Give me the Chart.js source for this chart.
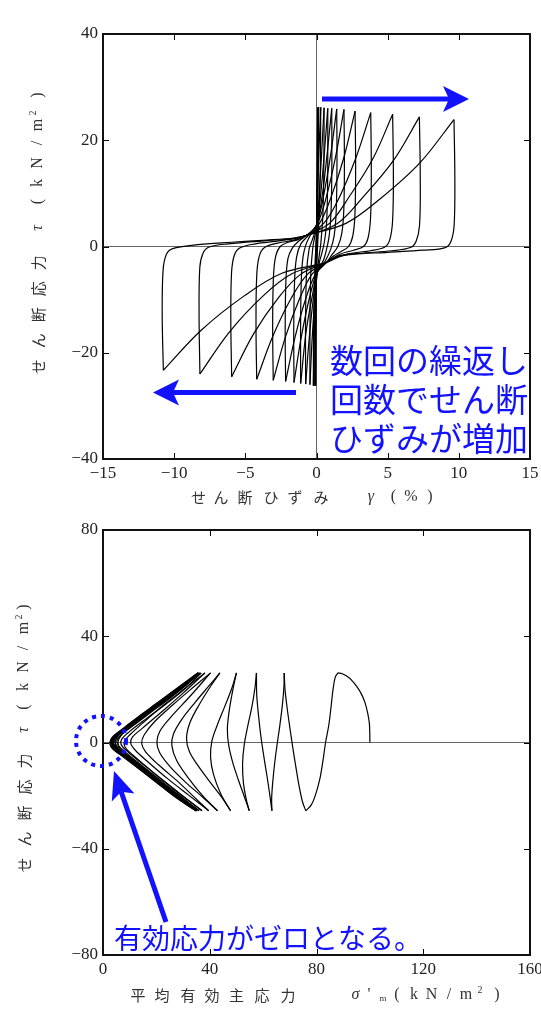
<!DOCTYPE html>
<html><head><meta charset="utf-8">
<script src="https://cdn.jsdelivr.net/npm/chart.js@4.4.1/dist/chart.umd.min.js"></script>
<style>
html,body{margin:0;padding:0;background:#fff;overflow:hidden;width:541px;height:1010px;}
canvas{position:absolute;left:0;}
#c1{top:0}#c2{top:505px}
</style></head><body>
<canvas id="c1" width="541" height="505"></canvas>
<canvas id="c2" width="541" height="505"></canvas>
<script>
// ---------- tick values ----------
const strainTicks = [-15, -10, -5, 0, 5, 10, 15];
const stressTicksTop = [-40, -20, 0, 20, 40];
const meanStressTicks = [0, 40, 80, 120, 160];
const stressTicksBottom = [-80, -40, 0, 40, 80];

// ---------- top: shear strain γ (%) per half-cycle ----------
const hysteresisStrain = [
  [0, 0.03, 0.06, 0.08],
  [0.08, 0.06, 0.02, -0.03, -0.06],
  [-0.06, -0.05, -0.01, 0.07, 0.15],
  [0.15, 0.12, 0.04, -0.06, -0.12],
  [-0.12, -0.1, -0.03, 0.1, 0.3],
  [0.30, 0.26, 0.15, 0.05, -0.05, -0.14, -0.22],
  [-0.22, -0.2, -0.1, 0, 0.15, 0.35, 0.53],
  [0.53, 0.52, 0.45, 0.3, 0.2, 0.05, -0.15, -0.32, -0.46],
  [-0.46, -0.46, -0.4, -0.25, -0.15, 0.05, 0.3, 0.55, 0.79],
  [0.79, 0.79, 0.72, 0.55, 0.35, 0.2, -0.05, -0.3, -0.55, -0.76],
  [-0.76, -0.77, -0.7, -0.52, -0.3, -0.1, 0.15, 0.45, 0.75, 1.07],
  [1.07, 1.08, 1.03, 0.9, 0.7, 0.5, 0.07, -0.31, -0.74, -1.11],
  [-1.11, -1.12, -1.07, -0.95, -0.75, -0.5, 0.02, 0.46, 0.98, 1.42],
  [1.42, 1.44, 1.39, 1.25, 1.0, 0.6, 0.01, -0.49, -1.08, -1.58],
  [-1.58, -1.6, -1.54, -1.4, -1.1, -0.6, 0.08, 0.67, 1.35, 1.93],
  [1.93, 1.96, 1.92, 1.78, 1.5, 1.1, 0.7, -0.07, -0.74, -1.51, -2.17],
  [-2.17, -2.2, -2.15, -2.0, -1.7, -1.3, -0.7, 0.22, 1.0, 1.93, 2.71],
  [2.71, 2.75, 2.7, 2.55, 2.25, 1.7, 1.2, 0.7, -0.31, -1.17, -2.18, -3.04],
  [-3.04, -3.08, -3.03, -2.88, -2.55, -2.0, -1.3, -0.7, 0.52, 1.56, 2.77, 3.81],
  [3.81, 3.85, 3.8, 3.62, 3.3, 2.6, 1.6, 0.7, -0.62, -1.75, -3.07, -4.2],
  [-4.2, -4.25, -4.2, -4.02, -3.65, -2.8, -1.6, -0.7, 0.93, 2.33, 3.96, 5.35],
  [5.35, 5.4, 5.35, 5.15, 4.8, 3.8, 2.2, 0.7, -1.1, -2.63, -4.43, -5.96],
  [-5.96, -6.02, -5.97, -5.78, -5.4, -4.3, -2.5, -0.7, 1.44, 3.27, 5.41, 7.23],
  [7.23, 7.29, 7.24, 7.0, 6.6, 5.3, 3.0, 1.5, 0.7, -1.7, -3.75, -6.15, -8.19],
  [-8.19, -8.25, -8.2, -7.98, -7.55, -6.2, -3.5, -1.6, -0.7, 2.1, 4.48, 7.28, 9.66],
  [9.66, 9.72, 9.67, 9.45, 9.05, 7.5, 5, 2.5, 1.4, 0.7, -2.39, -5.03, -8.12, -10.76],
  [-10.76, -10.84, -10.78, -10.55, -10.1, -8.5, -6, -3.5, -1.6, -0.7, 0.3]
];
// ---------- top: shear stress τ (kN/m²) per half-cycle ----------
const hysteresisStress = [
  [0, 10, 20, 26.2],
  [26.2, 13, 0, -13, -26.2],
  [-26.2, -13, 0, 13, 26.2],
  [26.2, 13, 0, -13, -26.2],
  [-26.2, -13, 0, 13, 26.2],
  [26.2, 14, 4, -1, -6, -15, -26.2],
  [-26.2, -14, -3, 1.5, 8, 17, 26.1],
  [26.1, 16, 6, 0.5, -1.5, -5, -11, -18, -26],
  [-26, -16, -5, 0, 1.5, 4.5, 10, 17.5, 26],
  [26, 15, 5, 0.8, -1.5, -3, -6.5, -11.5, -18.5, -25.9],
  [-25.9, -15, -5, -0.5, 1.2, 2.8, 5.5, 10.5, 17.5, 26],
  [26, 16, 7, 2.2, -0.6, -2.5, -4.8, -9.5, -16.2, -25.8],
  [-25.8, -16, -6.5, -2, 0.3, 1.8, 4.2, 9.0, 17.0, 25.9],
  [25.9, 16, 7, 2.2, -0.5, -2.8, -5.1, -9.6, -17.2, -25.6],
  [-25.6, -16, -6.5, -2, 0.5, 2.0, 4.4, 9.1, 17.0, 25.8],
  [25.8, 16, 7, 2.5, 0, -1.5, -3, -5.2, -9.7, -17.1, -25.4],
  [-25.4, -16, -6.5, -2.2, -0.3, 0.9, 2.1, 4.4, 9.1, 16.8, 25.5],
  [25.5, 15, 6, 2, 0, -1.0, -1.8, -3, -5.2, -9.7, -17.0, -25.2],
  [-25.2, -15, -6, -2, 0, 0.8, 1.3, 2.1, 4.4, 9.0, 16.7, 25.2],
  [25.2, 15, 5.5, 1.6, 0, -0.7, -1.5, -3, -5.2, -9.6, -16.9, -25.0],
  [-25, -15, -5.5, -1.8, -0.2, 0.6, 1.2, 2.1, 4.4, 9.5, 16.5, 24.9],
  [24.9, 14, 5, 1.3, -0.1, -0.8, -1.4, -3, -5.2, -9.5, -16.5, -24.5],
  [-24.5, -14, -5, -1.7, -0.3, 0.5, 1.1, 2.1, 4.3, 9.3, 16.2, 24.4],
  [24.4, 13, 4, 1, -0.2, -0.8, -1.3, -1.8, -3, -5.1, -9.3, -16.2, -24.0],
  [-24, -13, -4, -1.3, -0.1, 0.5, 1.1, 1.5, 2.1, 4.4, 9.0, 15.8, 23.9],
  [23.9, 13, 4, 1.0, -0.2, -0.7, -1.1, -1.5, -2.0, -3, -5.0, -9.2, -15.8, -23.3],
  [-23.3, -13, -4.5, -1.5, -0.4, 0.3, 0.8, 1.2, 1.6, 2.1, 3.5]
];

// ---------- bottom: mean effective stress σ'm (kN/m²) per half-cycle ----------
const pathMeanStress = [
  [100, 99.95, 99.8, 99.2, 98.2, 96.8, 95.0, 93.2, 91.3, 89.6, 88.0],
  [88.0, 87.0, 86.2, 85.4, 84.6, 83.4, 82.4, 81.3, 79.6, 78, 76.0],
  [76.0, 74.8, 73.6, 72.4, 71.2, 70.1, 69, 68.2, 67.9],
  [67.9, 67.8, 67.2, 66.2, 65.2, 64.3, 63.6, 63.2, 63.3],
  [63.3, 62.6, 61.5, 60.3, 59.2, 58.3, 57.6, 57.5],
  [57.5, 57.0, 55.8, 54.2, 52.9, 52.3, 52.6, 53.6, 54.8],
  [54.8, 53.0, 50.7, 48.6, 47.1, 46.6, 47.3, 48.6, 50.0],
  [50.0, 48.3, 45.6, 42.8, 40.8, 40.3, 41.4, 44.2, 47.8],
  [47.8, 44.4, 40.2, 35.8, 32.4, 31.3, 32.6, 36.2, 40.2, 43.8],
  [43.8, 39.6, 34.6, 29.6, 26.4, 25.8, 27.6, 32, 37.3, 42.9],
  [42.9, 37.6, 31.2, 25.2, 21.2, 20.2, 21.4, 25.8, 32.8, 40.3],
  [40.3, 33.6, 26.2, 19.3, 15.4, 14.5, 15.9, 20.8, 28.4, 34, 39.6],
  [39.6, 32.2, 24.2, 17.2, 12.2, 10.4, 11, 14.8, 21.8, 29.8, 38.2],
  [38.2, 30.6, 22.6, 15.2, 10.2, 8, 8.3, 11.5, 18, 26, 37.1],
  [37.1, 29, 21, 14, 9.2, 6.8, 7, 9.8, 16, 23.5, 30.5, 36.8],
  [36.8, 30, 22.5, 15, 9.5, 6.6, 5.6, 6.4, 9.5, 16, 24, 30.5, 36.0],
  [36.0, 28.5, 20.5, 13.5, 8.6, 5.8, 5.2, 6.6, 10.6, 17.5, 25, 31, 36.3],
  [36.3, 29.5, 22, 14.5, 9, 5.8, 4.6, 5.4, 8.6, 15.5, 23.5, 29.5, 35.3],
  [35.3, 28, 20, 13, 8, 5.2, 4.4, 5.6, 9.6, 16.5, 24.5, 30.5, 36.0],
  [36.0, 29.2, 21.6, 14, 8.4, 5.2, 3.9, 4.6, 7.8, 15, 23, 29, 35.1],
  [35.1, 27.8, 19.8, 12.6, 7.4, 4.6, 3.7, 4.8, 8.8, 16, 24, 30, 35.8],
  [35.8, 29, 21.4, 13.8, 8.2, 5, 3.4, 4.2, 7.4, 14.6, 22.6, 28.8, 35.0],
  [35.0, 27.6, 19.6, 12.4, 7.2, 4.2, 3.1, 4.3, 8.4, 15.7, 23.8, 29.8, 35.6],
  [35.6, 28.8, 21.2, 13.6, 8, 4.7, 2.9, 3.8, 7.1, 14.3, 22.4, 28.6, 34.8],
  [34.8, 27.4, 19.4, 12.2, 7, 3.9, 2.7, 3.9, 8, 15.4, 23.6, 29.6, 35.5],
  [35.5, 28.6, 21, 13.4, 7.8, 4.4, 2.6, 3.5, 6.9, 14, 22.2, 28.4, 34.8],
  [34.8, 27.4, 19.4, 12.2, 7, 4, 3, 4.2, 6.5]
];
// ---------- bottom: shear stress τ (kN/m²) per half-cycle ----------
const pathShearStress = [
  [0, 4, 7.3, 11, 14.9, 18.3, 21.2, 23.4, 25.0, 25.9, 26.2],
  [26.2, 24.5, 20, 13, 6.5, 0, -7, -13.5, -19.8, -23.6, -25.7],
  [-25.7, -22.5, -17, -10, -2.5, 5, 13, 20, 26.2],
  [26.2, 21, 14, 6, -1, -8, -15, -21, -25.7],
  [-25.7, -20.5, -13, -5.5, 2, 10, 18, 26.2],
  [26.2, 21, 13.5, 6, -1, -8, -15, -21, -25.7],
  [-25.7, -20.5, -14, -7.5, -1, 5, 12, 19.5, 26.2],
  [26.2, 20.5, 13.5, 6.5, 0.5, -5.5, -12, -19.5, -25.7],
  [-25.7, -20.5, -15, -9, -3.5, 1.5, 7.5, 14.5, 21, 26.2],
  [26.2, 21.2, 15.2, 8.8, 3.2, -1.2, -6.8, -13.4, -20, -25.7],
  [-25.7, -20.8, -15.2, -9.2, -3.8, 0.3, 4.4, 10, 17.6, 26.2],
  [26.2, 20.6, 14.2, 7.8, 2.8, -0.4, -3.4, -8.4, -15, -20.4, -25.7],
  [-25.7, -19.9, -13.6, -7.6, -3, -0.3, 2, 5.4, 11.4, 18.4, 26.2],
  [26.2, 20.3, 14, 7.6, 3, 0.4, -1.8, -5, -10.6, -17.2, -25.7],
  [-25.7, -19.4, -13, -7.4, -3.4, -0.8, 1.2, 4, 8.8, 14.4, 20, 26.2],
  [26.2, 21, 15.3, 9.6, 5.2, 2.4, 0, -2.4, -5, -10.2, -16.6, -21.6, -25.7],
  [-25.7, -19.8, -13.4, -7.8, -3.8, -1.2, 0.6, 2.8, 5.8, 11, 16.6, 21.4, 26.2],
  [26.2, 21, 15.4, 9.8, 5.6, 2.6, 0.2, -2.4, -5, -10.4, -16.8, -21.4, -25.7],
  [-25.7, -20, -13.6, -8, -4, -1.4, 0.6, 2.6, 5.4, 10.6, 16.6, 21.2, 26.2],
  [26.2, 21.1, 15.4, 9.8, 5.5, 2.6, 0.2, -2.2, -4.8, -10.4, -16.8, -21.4, -25.7],
  [-25.7, -20, -13.6, -8, -4, -1.4, 0.5, 2.5, 5.3, 10.6, 16.6, 21.2, 26.2],
  [26.2, 21.1, 15.4, 9.8, 5.5, 2.6, 0.1, -2.3, -4.9, -10.4, -16.8, -21.5, -25.7],
  [-25.7, -20, -13.6, -8, -4, -1.3, 0.5, 2.5, 5.3, 10.6, 16.6, 21.2, 26.2],
  [26.2, 21.1, 15.4, 9.8, 5.5, 2.6, 0.1, -2.3, -4.9, -10.4, -16.8, -21.5, -25.7],
  [-25.7, -20, -13.6, -8, -4, -1.3, 0.5, 2.5, 5.3, 10.6, 16.6, 21.2, 26.2],
  [26.2, 21.1, 15.4, 9.8, 5.5, 2.6, 0.1, -2.3, -4.9, -10.4, -16.8, -21.5, -25.7],
  [-25.7, -20, -13.6, -8, -4, -1.3, 0.5, 2.4, 3.5]
];

// ---------- helpers ----------
const BLUE = '#1212ff';
const TXT = '#333';
const CJK = '"Noto Sans CJK JP", sans-serif';
const SERIF = '"Liberation Serif", "DejaVu Serif", serif';

function buildDatasets(xs, ys) {
  return xs.map((seg, i) => ({
    data: seg.map((x, j) => ({ x: x, y: ys[i][j] })),
    showLine: true, borderColor: '#000', borderWidth: 1.2,
    pointRadius: 0, pointHoverRadius: 0, tension: 0.35, fill: false
  }));
}
function fmt(v) { return v < 0 ? '\u2212' + Math.abs(v) : String(v); }

function arrow(ctx, x1, y1, x2, y2, w, hl, hw) {
  const a = Math.atan2(y2 - y1, x2 - x1);
  const L = Math.hypot(x2 - x1, y2 - y1);
  ctx.save();
  ctx.translate(x2, y2); ctx.rotate(a);
  ctx.fillStyle = BLUE;
  ctx.fillRect(-L, -w / 2, L - hl + 6, w);
  ctx.beginPath();
  ctx.moveTo(0, 0); ctx.lineTo(-hl, -hw / 2); ctx.lineTo(-hl + 6, 0); ctx.lineTo(-hl, hw / 2);
  ctx.closePath(); ctx.fill();
  ctx.restore();
}
function hChars(ctx, y, list) {
  ctx.save(); ctx.fillStyle = TXT; ctx.textAlign = 'center'; ctx.textBaseline = 'middle';
  list.forEach(([ch, x, f, dy]) => { ctx.font = f; ctx.fillText(ch, x, y + (dy || 0)); });
  ctx.restore();
}
function vChars(ctx, x, list) {
  ctx.save(); ctx.fillStyle = TXT; ctx.textAlign = 'center'; ctx.textBaseline = 'middle';
  list.forEach(([ch, y, f, dx]) => {
    ctx.save(); ctx.translate(x + (dx || 0), y); ctx.rotate(-Math.PI / 2);
    ctx.font = f; ctx.fillText(ch, 0, 0); ctx.restore();
  });
  ctx.restore();
}
function frameAndTicks(chart, xTicks, yTicks) {
  const ctx = chart.ctx, a = chart.chartArea, xs = chart.scales.x, ys = chart.scales.y;
  ctx.save();
  ctx.strokeStyle = '#000'; ctx.lineWidth = 1;
  ctx.beginPath();
  xTicks.slice(1, -1).forEach(v => {
    const px = Math.round(xs.getPixelForValue(v)) + 0.5;
    ctx.moveTo(px, a.bottom); ctx.lineTo(px, a.bottom - 6);
    ctx.moveTo(px, a.top); ctx.lineTo(px, a.top + 6);
  });
  yTicks.slice(1, -1).forEach(v => {
    const py = Math.round(ys.getPixelForValue(v)) + 0.5;
    ctx.moveTo(a.left, py); ctx.lineTo(a.left + 6, py);
    ctx.moveTo(a.right, py); ctx.lineTo(a.right - 6, py);
  });
  ctx.stroke();
  ctx.strokeStyle = '#111'; ctx.lineWidth = 2;
  ctx.strokeRect(a.left, a.top, a.right - a.left, a.bottom - a.top);
  ctx.restore();
}

function axisOpts(min, max, ticks, isX, size) {
  return {
    type: 'linear', min: min, max: max,
    afterBuildTicks: s => { s.ticks = ticks.map(v => ({ value: v })); },
    afterFit: s => {
      if (isX) { s.height = size; } else { s.width = size; }
      s.paddingLeft = 0; s.paddingRight = 0; s.paddingTop = 0; s.paddingBottom = 0;
    },
    grid: {
      drawTicks: false,
      color: c => (c.tick && c.tick.value === 0) ? '#666' : 'rgba(0,0,0,0)',
      lineWidth: 1
    },
    border: { display: false },
    ticks: {
      padding: isX ? 4 : 5, color: '#222', autoSkip: false, maxRotation: 0,
      font: { family: SERIF, size: 17 },
      callback: v => fmt(v)
    }
  };
}

const fCJK = '15px ' + CJK;
const fSer = '16px ' + SERIF;
const fSerI = 'italic 16px ' + SERIF;
const fSm = '10px ' + SERIF;

// ---------- top chart ----------
const topPlugin = {
  id: 'topDeco',
  afterDraw(chart) {
    const ctx = chart.ctx;
    frameAndTicks(chart, strainTicks, stressTicksTop);
    hChars(ctx, 497, [
      ['せ', 198.5, fCJK], ['ん', 221, fCJK], ['断', 245, fCJK], ['ひ', 271, fCJK],
      ['ず', 295, fCJK], ['み', 321, fCJK], ['γ', 371, fSerI], ['(', 393.5, fSer],
      ['%', 411, fSer], [')', 430, fSer]
    ]);
    vChars(ctx, 38, [
      ['せ', 366.7, fCJK], ['ん', 340.7, fCJK], ['断', 314.7, fCJK], ['応', 288.7, fCJK],
      ['力', 262.7, fCJK], ['τ', 228, fSerI], ['(', 201.7, fSer], ['k', 183, fSer],
      ['N', 163, fSer], ['/', 143, fSer], ['m', 125, fSer], ['2', 113, fSm, -5], [')', 95, fSer]
    ]);
    arrow(ctx, 322, 99, 469, 99, 5, 26, 26);
    arrow(ctx, 296, 392.5, 153, 392.5, 5, 26, 26);
    ctx.save();
    ctx.fillStyle = BLUE; ctx.font = '33px ' + CJK; ctx.textBaseline = 'middle'; ctx.textAlign = 'left';
    ctx.fillText('数回の繰返し', 330, 360);
    ctx.fillText('回数でせん断', 330, 399);
    ctx.fillText('ひずみが増加', 330, 438);
    ctx.restore();
  }
};

new Chart(document.getElementById('c1'), {
  type: 'scatter',
  data: { datasets: buildDatasets(hysteresisStrain, hysteresisStress) },
  options: {
    responsive: false, animation: false, devicePixelRatio: 1,
    layout: { padding: { top: 34, right: 11, left: 0, bottom: 0 } },
    plugins: { legend: { display: false }, tooltip: { enabled: false } },
    events: [],
    scales: {
      x: axisOpts(-15, 15, strainTicks, true, 505 - 459),
      y: axisOpts(-40, 40, stressTicksTop, false, 103)
    }
  },
  plugins: [topPlugin]
});

// ---------- bottom chart ----------
const bottomPlugin = {
  id: 'bottomDeco',
  afterDraw(chart) {
    const ctx = chart.ctx;
    frameAndTicks(chart, meanStressTicks, stressTicksBottom);
    hChars(ctx, 490, [
      ['平', 138, fCJK], ['均', 162, fCJK], ['有', 188, fCJK], ['効', 212, fCJK],
      ['主', 236.5, fCJK], ['応', 262, fCJK], ['力', 288, fCJK], ['σ', 355.5, fSerI],
      ['\'', 369, fSer], ['m', 383, '9px ' + SERIF, 4], ['(', 397, fSer], ['k', 414, fSer],
      ['N', 431.5, fSer], ['/', 449, fSer], ['m', 466, fSer], ['2', 480, fSm, -5], [')', 497, fSer]
    ]);
    vChars(ctx, 24, [
      ['せ', 360, fCJK], ['ん', 334, fCJK], ['断', 308, fCJK], ['応', 282, fCJK],
      ['力', 256, fCJK], ['τ', 225, fSerI], ['(', 202, fSer], ['k', 182, fSer],
      ['N', 162, fSer], ['/', 143, fSer], ['m', 123, fSer], ['2', 112, fSm, -5], [')', 102, fSer]
    ]);
    // dotted circle
    ctx.save();
    ctx.strokeStyle = BLUE; ctx.lineWidth = 4; ctx.setLineDash([4, 5]);
    ctx.beginPath(); ctx.arc(101, 236, 25, 0, Math.PI * 2); ctx.stroke();
    ctx.restore();
    arrow(ctx, 166, 417, 114, 266, 5, 28, 24);
    ctx.save();
    ctx.fillStyle = BLUE; ctx.font = '28px ' + CJK; ctx.textBaseline = 'middle'; ctx.textAlign = 'left';
    ctx.fillText('有効応力がゼロとなる。', 114, 433);
    ctx.restore();
  }
};

new Chart(document.getElementById('c2'), {
  type: 'scatter',
  data: { datasets: buildDatasets(pathMeanStress, pathShearStress) },
  options: {
    responsive: false, animation: false, devicePixelRatio: 1,
    layout: { padding: { top: 25, right: 11, left: 0, bottom: 0 } },
    plugins: { legend: { display: false }, tooltip: { enabled: false } },
    events: [],
    scales: {
      x: axisOpts(0, 160, meanStressTicks, true, 505 - 450),
      y: axisOpts(-80, 80, stressTicksBottom, false, 103)
    }
  },
  plugins: [bottomPlugin]
});
</script>
</body></html>
